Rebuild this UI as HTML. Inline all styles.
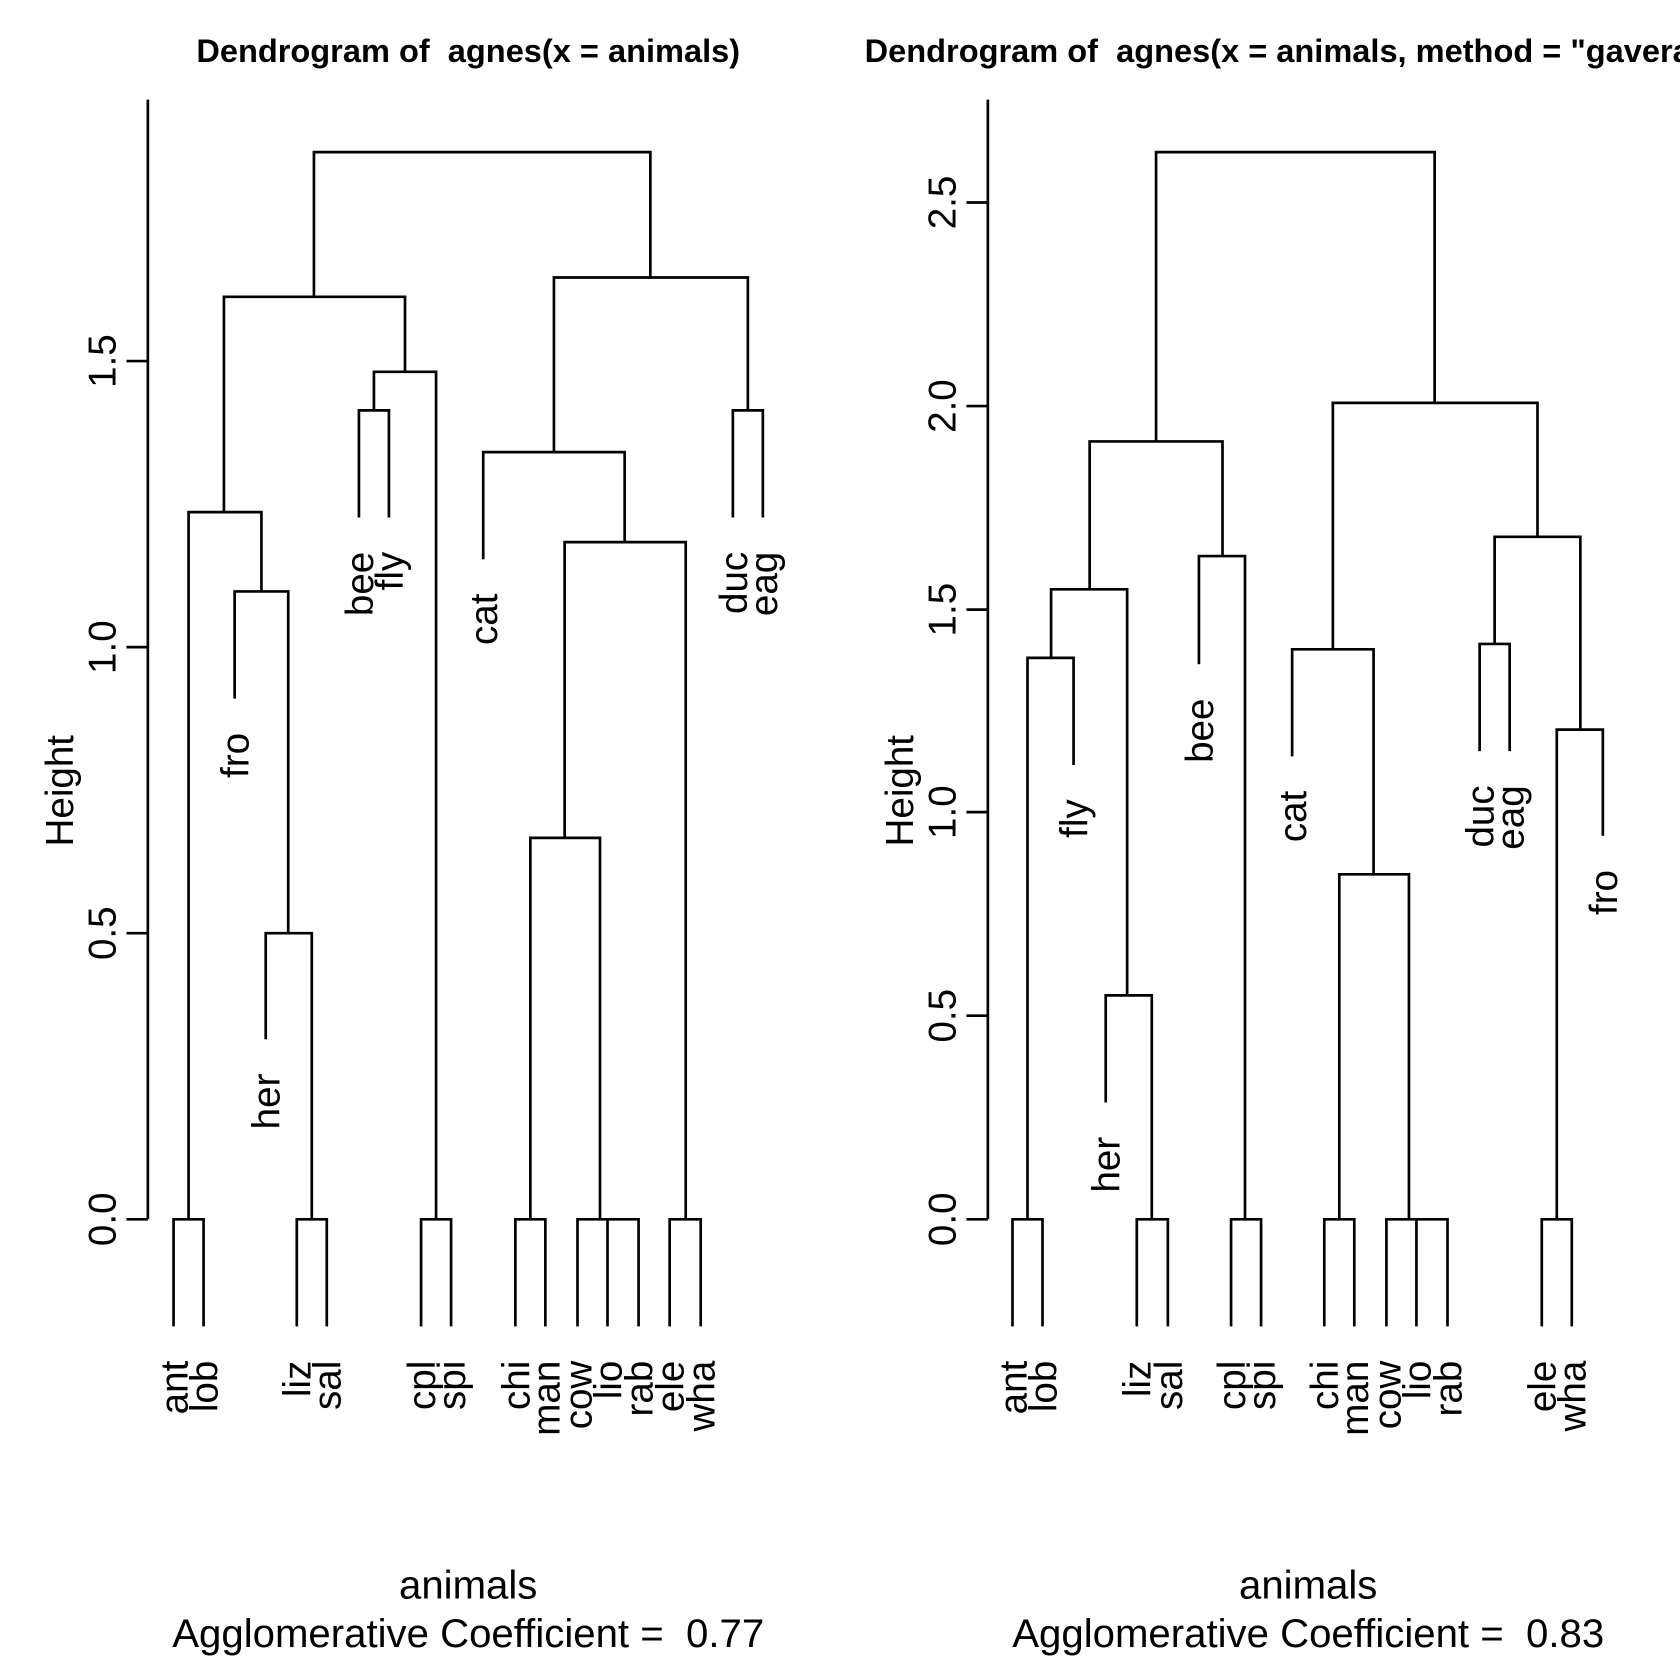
<!DOCTYPE html>
<html><head><meta charset="utf-8"><style>html,body{margin:0;padding:0;background:#fff}svg{display:block}text{white-space:pre}</style></head>
<body>
<svg xmlns="http://www.w3.org/2000/svg" xml:space="preserve" width="1680" height="1680" viewBox="0 0 1568 1568" font-family="Liberation Sans, Arial, sans-serif">
<rect width="1568" height="1568" fill="#fff"/>
<g stroke="#000" stroke-width="2.5" fill="none">
<path d="M138 93V1138M118 1138H138M118 871H138M118 604H138M118 337H138"/>
<path d="M162 1238V1138H190V1238M176 1138V478H244V552M219 652V552H269V871M248 970V871H291V1138M277 1238V1138H305V1238
M209 478V277H378V347M349 383V347H407V1138M335 483V383H363V483M393 1238V1138H421V1238
M293 277V142H607V259M517 422V259H698V383M684 483V383H712V483
M451 522V422H583V506M527 782V506H640V1138M625 1238V1138H654V1238
M495 1138V782H560V1138M481 1238V1138H509V1238M539 1238V1138H596V1238M567 1138V1238"/>
<path d="M922 93V1138M902 1138H922M902 948H922M902 758H922M902 569H922M902 379H922M902 189H922"/>
<path d="M945 1238V1138H973V1238M959 1138V614H1002V714M981 614V550H1052V929M1032 1029V929H1075V1138M1061 1238V1138H1090V1238
M1017 550V412H1141V519M1119 620V519H1162V1138M1149 1238V1138H1177V1238
M1079 412V142H1339V376M1244 606V376H1435V501M1206 706V606H1282V816M1250 1138V816H1315V1138
M1236 1238V1138H1264V1238M1294 1238V1138H1351V1238M1322 1138V1238
M1395 601V501H1475V681M1381 701V601H1409V701M1453 1138V681H1496V780M1439 1238V1138H1467V1238"/>
</g>
<g font-size="30.4" font-weight="bold" fill="#000">
<text x="437" y="58" text-anchor="middle">Dendrogram of  agnes(x = animals)</text>
<text x="807" y="58">Dendrogram of  agnes(x = animals, method = "gaverage")</text>
</g>
<g font-size="37.5" fill="#000" text-anchor="middle">
<text x="437" y="1492">animals</text>
<text x="437" y="1537">Agglomerative Coefficient =  0.77</text>
<text x="1221" y="1492">animals</text>
<text x="1221" y="1537">Agglomerative Coefficient =  0.83</text>
</g>
<g font-size="36" fill="#000" text-anchor="middle">
<text transform="translate(68,738) rotate(-90)">Height</text>
<text transform="translate(852,738) rotate(-90)">Height</text>
<text transform="translate(108,1138) rotate(-90)">0.0</text>
<text transform="translate(108,871) rotate(-90)">0.5</text>
<text transform="translate(108,604) rotate(-90)">1.0</text>
<text transform="translate(108,337) rotate(-90)">1.5</text>
<text transform="translate(892,1138) rotate(-90)">0.0</text>
<text transform="translate(892,948) rotate(-90)">0.5</text>
<text transform="translate(892,758) rotate(-90)">1.0</text>
<text transform="translate(892,569) rotate(-90)">1.5</text>
<text transform="translate(892,379) rotate(-90)">2.0</text>
<text transform="translate(892,189) rotate(-90)">2.5</text>
</g>
<g font-size="36" fill="#000" text-anchor="end">
<text transform="translate(175,1270) rotate(-90)">ant</text>
<text transform="translate(203,1270) rotate(-90)">lob</text>
<text transform="translate(290,1270) rotate(-90)">liz</text>
<text transform="translate(318,1270) rotate(-90)">sal</text>
<text transform="translate(406,1270) rotate(-90)">cpl</text>
<text transform="translate(434,1270) rotate(-90)">spi</text>
<text transform="translate(494,1270) rotate(-90)">chi</text>
<text transform="translate(522,1270) rotate(-90)">man</text>
<text transform="translate(552,1270) rotate(-90)">cow</text>
<text transform="translate(580,1270) rotate(-90)">lio</text>
<text transform="translate(609,1270) rotate(-90)">rab</text>
<text transform="translate(638,1270) rotate(-90)">ele</text>
<text transform="translate(667,1270) rotate(-90)">wha</text>
<text transform="translate(232,684) rotate(-90)">fro</text>
<text transform="translate(261,1002) rotate(-90)">her</text>
<text transform="translate(348,515) rotate(-90)">bee</text>
<text transform="translate(376,515) rotate(-90)">fly</text>
<text transform="translate(464,554) rotate(-90)">cat</text>
<text transform="translate(697,515) rotate(-90)">duc</text>
<text transform="translate(725,515) rotate(-90)">eag</text>
<text transform="translate(958,1270) rotate(-90)">ant</text>
<text transform="translate(986,1270) rotate(-90)">lob</text>
<text transform="translate(1074,1270) rotate(-90)">liz</text>
<text transform="translate(1103,1270) rotate(-90)">sal</text>
<text transform="translate(1162,1270) rotate(-90)">cpl</text>
<text transform="translate(1190,1270) rotate(-90)">spi</text>
<text transform="translate(1249,1270) rotate(-90)">chi</text>
<text transform="translate(1277,1270) rotate(-90)">man</text>
<text transform="translate(1307,1270) rotate(-90)">cow</text>
<text transform="translate(1335,1270) rotate(-90)">lio</text>
<text transform="translate(1364,1270) rotate(-90)">rab</text>
<text transform="translate(1452,1270) rotate(-90)">ele</text>
<text transform="translate(1480,1270) rotate(-90)">wha</text>
<text transform="translate(1015,746) rotate(-90)">fly</text>
<text transform="translate(1045,1061) rotate(-90)">her</text>
<text transform="translate(1132,652) rotate(-90)">bee</text>
<text transform="translate(1219,738) rotate(-90)">cat</text>
<text transform="translate(1394,733) rotate(-90)">duc</text>
<text transform="translate(1422,733) rotate(-90)">eag</text>
<text transform="translate(1509,812) rotate(-90)">fro</text>
</g>
</svg>
</body></html>
